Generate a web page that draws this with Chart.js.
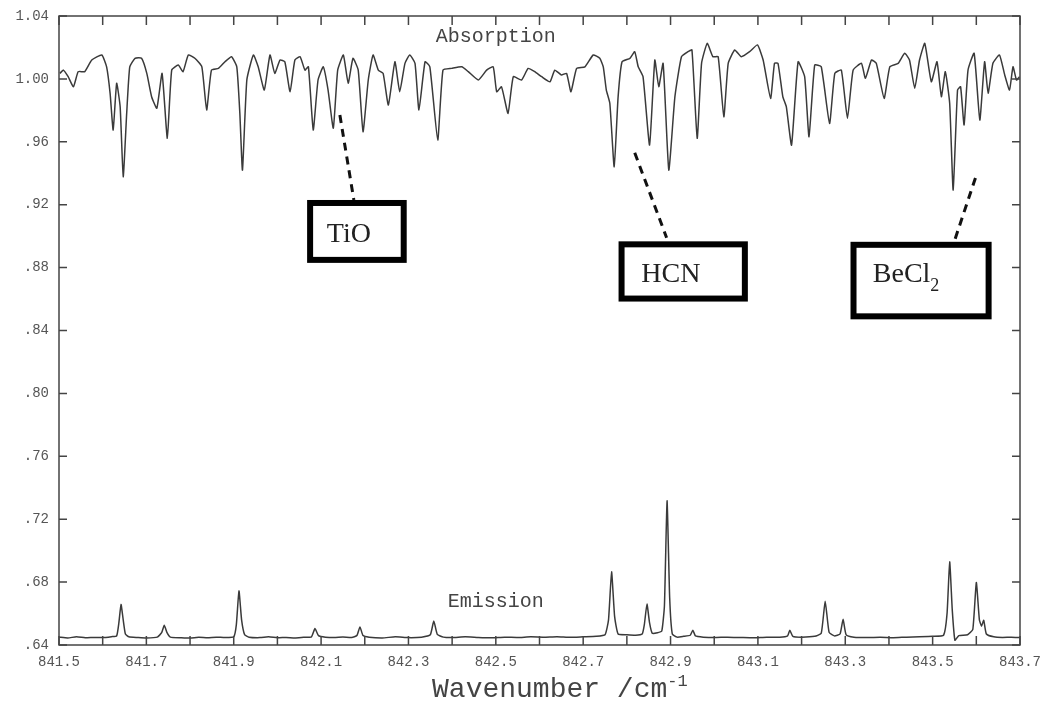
<!DOCTYPE html>
<html>
<head>
<meta charset="utf-8">
<script src="https://cdn.jsdelivr.net/npm/chart.js@4.4.1/dist/chart.umd.min.js"></script>
<style>
  html, body { margin: 0; padding: 0; background: #fff; }
  #wrap { width: 1044px; height: 709px; }
</style>
</head>
<body>
<div id="wrap"><canvas id="spectrum"></canvas></div>
<script>
// absorption trace (wavenumber, relative intensity)
const absX = [
  841.502, 841.510, 841.521, 841.533, 841.544, 841.559, 841.575, 841.598, 841.609, 841.617,
  841.624, 841.632, 841.640, 841.647, 841.655, 841.662, 841.674, 841.689, 841.701, 841.712,
  841.724, 841.736, 841.748, 841.758, 841.773, 841.784, 841.796, 841.811, 841.827, 841.838,
  841.849, 841.865, 841.880, 841.895, 841.907, 841.914, 841.920, 841.930, 841.945, 841.956,
  841.970, 841.983, 841.994, 842.006, 842.017, 842.029, 842.040, 842.052, 842.063, 842.071,
  842.082, 842.093, 842.105, 842.116, 842.128, 842.138, 842.151, 842.162, 842.173, 842.185,
  842.196, 842.208, 842.219, 842.231, 842.242, 842.254, 842.269, 842.280, 842.292, 842.303,
  842.315, 842.324, 842.338, 842.349, 842.367, 842.379, 842.399, 842.422, 842.437, 842.460,
  842.479, 842.494, 842.502, 842.513, 842.528, 842.540, 842.559, 842.574, 842.589, 842.605,
  842.624, 842.635, 842.650, 842.662, 842.672, 842.685, 842.704, 842.723, 842.738, 842.746,
  842.753, 842.761, 842.771, 842.780, 842.789, 842.807, 842.818, 842.826, 842.837, 842.852,
  842.864, 842.873, 842.883, 842.896, 842.910, 842.925, 842.940, 842.949, 842.961, 842.971,
  842.984, 842.997, 843.009, 843.022, 843.032, 843.047, 843.062, 843.081, 843.099, 843.112,
  843.129, 843.138, 843.146, 843.157, 843.165, 843.177, 843.192, 843.207, 843.217, 843.230,
  843.245, 843.264, 843.276, 843.291, 843.305, 843.318, 843.337, 843.346, 843.360, 843.371,
  843.389, 843.402, 843.421, 843.436, 843.447, 843.459, 843.470, 843.482, 843.497, 843.510,
  843.520, 843.529, 843.539, 843.547, 843.557, 843.564, 843.572, 843.581, 843.595, 843.608,
  843.619, 843.627, 843.638, 843.653, 843.665, 843.676, 843.684, 843.692, 843.699
];
const absY = [
  1.0035, 1.0056, 1.0014, 0.9950, 1.0046, 1.0046, 1.0120, 1.0152, 1.0077, 0.9908,
  0.9675, 0.9972, 0.9823, 0.9378, 0.9783, 1.0077, 1.0131, 1.0131, 1.0035, 0.9887,
  0.9813, 1.0035, 0.9622, 1.0056, 1.0088, 1.0046, 1.0152, 1.0131, 1.0077, 0.9802,
  1.0056, 1.0067, 1.0109, 1.0141, 1.0077, 0.9781, 0.9420, 0.9993, 1.0152, 1.0077,
  0.9929, 1.0152, 1.0035, 1.0120, 1.0109, 0.9918, 1.0120, 1.0141, 1.0056, 1.0077,
  0.9675, 0.9993, 1.0077, 0.9929, 0.9686, 1.0056, 1.0152, 0.9972, 1.0131, 1.0056,
  0.9664, 0.9993, 1.0152, 1.0056, 1.0035, 0.9834, 1.0109, 0.9918, 1.0099, 1.0152,
  1.0099, 0.9802, 1.0109, 1.0077, 0.9611, 1.0056, 1.0067, 1.0077, 1.0046, 0.9993,
  1.0056, 1.0077, 0.9918, 0.9950, 0.9781, 1.0014, 0.9993, 1.0067, 1.0046, 1.0014,
  0.9982, 1.0056, 1.0025, 1.0035, 0.9918, 1.0067, 1.0077, 1.0152, 1.0131, 1.0077,
  0.9929, 0.9845, 0.9441, 0.9887, 1.0109, 1.0131, 1.0173, 1.0077, 1.0014, 0.9579,
  1.0120, 0.9950, 1.0099, 0.9420, 0.9887, 1.0141, 1.0173, 1.0184, 0.9622, 1.0099,
  1.0226, 1.0141, 1.0141, 0.9759, 1.0099, 1.0184, 1.0141, 1.0173, 1.0216, 1.0120,
  0.9876, 1.0100, 1.0099, 0.9887, 0.9823, 0.9579, 1.0109, 1.0014, 0.9632, 1.0088,
  1.0077, 0.9717, 1.0035, 1.0056, 0.9749, 1.0056, 1.0099, 1.0004, 1.0120, 1.0099,
  0.9876, 1.0077, 1.0099, 1.0163, 1.0120, 0.9940, 1.0120, 1.0226, 0.9982, 1.0109,
  0.9887, 1.0046, 0.9845, 0.9293, 0.9929, 0.9950, 0.9707, 1.0056, 1.0163, 0.9738,
  1.0109, 0.9908, 1.0099, 1.0152, 1.0025, 0.9929, 1.0077, 0.9993, 1.0014
];

// emission trace
const emX = [
  841.500, 841.520, 841.540, 841.560, 841.580, 841.600, 841.620, 841.632, 841.637, 841.642,
  841.647, 841.652, 841.660, 841.680, 841.700, 841.725, 841.735, 841.741, 841.747, 841.755,
  841.780, 841.800, 841.820, 841.840, 841.860, 841.880, 841.900, 841.906, 841.912, 841.918,
  841.925, 841.935, 841.960, 841.980, 842.000, 842.020, 842.040, 842.060, 842.078, 842.086,
  842.094, 842.110, 842.130, 842.150, 842.170, 842.182, 842.189, 842.196, 842.210, 842.240,
  842.270, 842.300, 842.330, 842.350, 842.358, 842.366, 842.380, 842.400, 842.430, 842.460,
  842.490, 842.520, 842.550, 842.580, 842.610, 842.640, 842.670, 842.700, 842.730, 842.750,
  842.758, 842.765, 842.772, 842.780, 842.800, 842.820, 842.835, 842.840, 842.846, 842.852,
  842.858, 842.870, 842.880, 842.886, 842.892, 842.898, 842.904, 842.915, 842.930, 842.945,
  842.951, 842.957, 842.975, 843.000, 843.030, 843.060, 843.090, 843.120, 843.150, 843.168,
  843.173, 843.180, 843.200, 843.230, 843.245, 843.254, 843.263, 843.275, 843.288, 843.295,
  843.302, 843.320, 843.350, 843.380, 843.410, 843.440, 843.470, 843.500, 843.525, 843.533,
  843.539, 843.545, 843.551, 843.560, 843.580, 843.592, 843.600, 843.607, 843.612, 843.617,
  843.623, 843.640, 843.660, 843.680, 843.700
];
const emY = [
  0.6450, 0.6445, 0.6452, 0.6446, 0.6448, 0.6447, 0.6453, 0.6458, 0.6540, 0.6658,
  0.6560, 0.6470, 0.6452, 0.6448, 0.6445, 0.6450, 0.6478, 0.6526, 0.6480, 0.6450,
  0.6446, 0.6444, 0.6449, 0.6446, 0.6450, 0.6447, 0.6452, 0.6530, 0.6744, 0.6560,
  0.6465, 0.6450, 0.6447, 0.6452, 0.6446, 0.6448, 0.6445, 0.6449, 0.6452, 0.6505,
  0.6460, 0.6450, 0.6447, 0.6451, 0.6448, 0.6460, 0.6515, 0.6460, 0.6450, 0.6445,
  0.6452, 0.6447, 0.6450, 0.6465, 0.6553, 0.6468, 0.6450, 0.6447, 0.6452, 0.6448,
  0.6446, 0.6450, 0.6448, 0.6452, 0.6450, 0.6453, 0.6449, 0.6452, 0.6455, 0.6465,
  0.6560, 0.6865, 0.6580, 0.6470, 0.6465, 0.6462, 0.6470, 0.6530, 0.6660, 0.6540,
  0.6475, 0.6478, 0.6490, 0.6650, 0.7317, 0.6700, 0.6470, 0.6450, 0.6455, 0.6462,
  0.6494, 0.6458, 0.6450, 0.6447, 0.6450, 0.6448, 0.6446, 0.6450, 0.6449, 0.6458,
  0.6494, 0.6455, 0.6450, 0.6455, 0.6475, 0.6679, 0.6480, 0.6458, 0.6470, 0.6564,
  0.6465, 0.6450, 0.6447, 0.6449, 0.6446, 0.6450, 0.6452, 0.6455, 0.6462, 0.6600,
  0.6929, 0.6620, 0.6430, 0.6460, 0.6465, 0.6500, 0.6798, 0.6560, 0.6520, 0.6557,
  0.6470, 0.6452, 0.6448, 0.6450, 0.6447
];

const seriesNames = ['Absorption', 'Emission'];
const molecules = ['TiO', 'HCN', 'BeCl'];

const toPoints = (xs, ys) => xs.map((x, i) => ({ x: x, y: ys[i] }));

// label boxes + leader lines, in data units
const notes = [
  { text: molecules[0], sub: '', box: [842.068, 842.296, 0.923, 0.883], tx: 842.113, ty: 0.8964,
    line: [842.143, 0.977, 842.175, 0.923] },
  { text: molecules[1], sub: '', box: [842.781, 843.077, 0.8967, 0.8584], tx: 842.833, ty: 0.8710,
    line: [842.818, 0.953, 842.891, 0.899] },
  { text: molecules[2], sub: '2', box: [843.312, 843.635, 0.8964, 0.8471], tx: 843.363, ty: 0.8710,
    line: [843.598, 0.937, 843.550, 0.897] }
];

const framePlugin = {
  id: 'frame',
  afterDatasetsDraw(chart) {
    const { ctx, chartArea: a } = chart;
    const x = chart.scales.x, y = chart.scales.y;
    ctx.save();

    // frame and inward ticks
    ctx.strokeStyle = '#444';
    ctx.lineWidth = 1.5;
    ctx.strokeRect(a.left, a.top, a.right - a.left, a.bottom - a.top);
    ctx.beginPath();
    x.ticks.forEach(t => {
      const px = x.getPixelForValue(t.value);
      ctx.moveTo(px, a.bottom); ctx.lineTo(px, a.bottom - 9);
      ctx.moveTo(px, a.top); ctx.lineTo(px, a.top + 9);
    });
    y.ticks.forEach(t => {
      const py = y.getPixelForValue(t.value);
      ctx.moveTo(a.left, py); ctx.lineTo(a.left + 8, py);
      ctx.moveTo(a.right, py); ctx.lineTo(a.right - 8, py);
    });
    ctx.stroke();

    // series captions
    ctx.fillStyle = '#444';
    ctx.font = '20px "Liberation Mono"';
    ctx.textAlign = 'center';
    ctx.textBaseline = 'middle';
    ctx.fillText(seriesNames[0], x.getPixelForValue(842.5), y.getPixelForValue(1.0266));
    ctx.fillText(seriesNames[1], x.getPixelForValue(842.5), y.getPixelForValue(0.6678));

    // axis title with superscript
    ctx.textAlign = 'left';
    ctx.textBaseline = 'alphabetic';
    ctx.font = '28px "Liberation Mono"';
    const left = x.getPixelForValue(842.354);
    const main = 'Wavenumber /cm';
    ctx.fillText(main, left, 697);
    const w = ctx.measureText(main).width;
    ctx.font = '17px "Liberation Mono"';
    ctx.fillText('-1', left + w, 686);

    // molecule labels
    notes.forEach(n => {
      const [x0, x1, y0, y1] = n.box;
      const l = x.getPixelForValue(x0), r = x.getPixelForValue(x1);
      const t = y.getPixelForValue(y0), b = y.getPixelForValue(y1);

      ctx.setLineDash([8, 6]);
      ctx.lineWidth = 3;
      ctx.strokeStyle = '#111';
      ctx.beginPath();
      ctx.moveTo(x.getPixelForValue(n.line[0]), y.getPixelForValue(n.line[1]));
      ctx.lineTo(x.getPixelForValue(n.line[2]), y.getPixelForValue(n.line[3]));
      ctx.stroke();
      ctx.setLineDash([]);

      ctx.fillStyle = '#fff';
      ctx.fillRect(l, t, r - l, b - t);
      ctx.lineWidth = 6;
      ctx.strokeStyle = '#000';
      ctx.strokeRect(l + 3, t + 3, r - l - 6, b - t - 6);

      ctx.fillStyle = '#222';
      ctx.font = '28px "Liberation Serif"';
      const tx = x.getPixelForValue(n.tx), ty = y.getPixelForValue(n.ty);
      ctx.fillText(n.text, tx, ty);
      if (n.sub) {
        const sw = ctx.measureText(n.text).width;
        ctx.font = '18px "Liberation Serif"';
        ctx.fillText(n.sub, tx + sw, ty + 9);
      }
    });
    ctx.restore();
  }
};

const tickFont = { family: 'Liberation Mono', size: 14 };

new Chart(document.getElementById('spectrum'), {
  type: 'scatter',
  data: {
    datasets: [
      {
        label: seriesNames[0],
        data: toPoints(absX, absY),
        showLine: true,
        borderColor: '#3a3a3a',
        borderWidth: 1.5,
        pointRadius: 0,
        tension: 0.15
      },
      {
        label: seriesNames[1],
        data: toPoints(emX, emY),
        showLine: true,
        borderColor: '#3a3a3a',
        borderWidth: 1.5,
        pointRadius: 0,
        tension: 0.15
      }
    ]
  },
  options: {
    responsive: true,
    maintainAspectRatio: false,
    animation: false,
    layout: { padding: { left: 15, right: 24, top: 16, bottom: 38 } },
    plugins: {
      legend: { display: false },
      tooltip: { enabled: false }
    },
    scales: {
      x: {
        type: 'linear',
        min: 841.5,
        max: 843.7,
        grid: { display: false, drawTicks: false },
        border: { display: false },
        afterFit: s => { s.height = 26; s.paddingLeft = 0; s.paddingRight = 0; },
        ticks: {
          stepSize: 0.1,
          autoSkip: false,
          maxRotation: 0,
          padding: 9,
          color: '#555',
          font: tickFont,
          callback: v => {
            const k = Math.round(v * 10) - 8415;
            return k % 2 === 0 ? v.toFixed(1) : '';
          }
        }
      },
      y: {
        min: 0.64,
        max: 1.04,
        grid: { display: false, drawTicks: false },
        border: { display: false },
        afterFit: s => { s.width = 44; s.paddingTop = 0; s.paddingBottom = 0; },
        ticks: {
          stepSize: 0.04,
          padding: 10,
          color: '#555',
          font: tickFont,
          callback: v => v.toFixed(2).replace(/^0/, '')
        }
      }
    }
  },
  plugins: [framePlugin]
});
</script>
</body>
</html>
